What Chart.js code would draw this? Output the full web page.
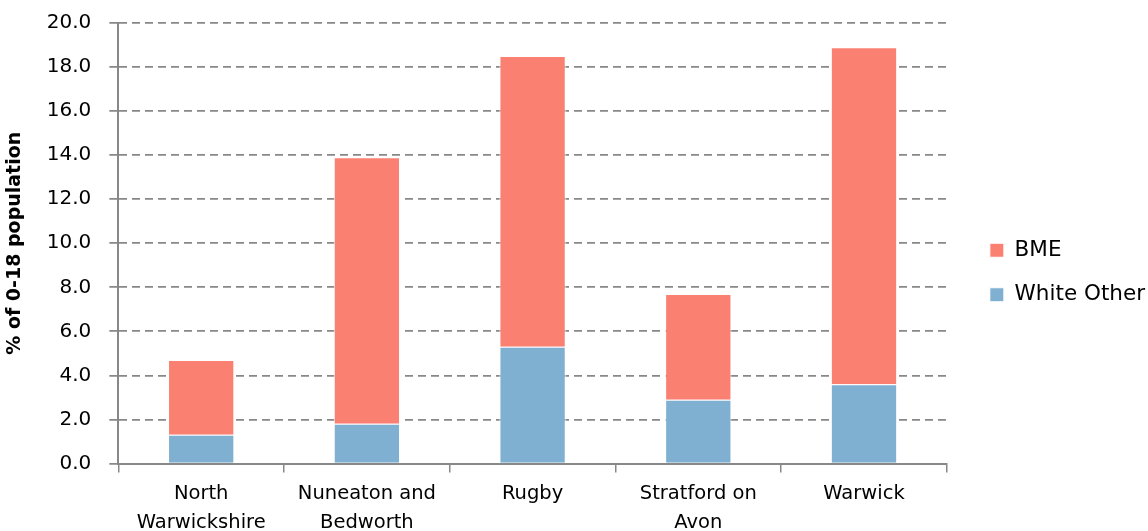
<!DOCTYPE html>
<html>
<head>
<meta charset="utf-8">
<script src="https://cdn.jsdelivr.net/npm/chart.js@4"></script>
<style>
  html, body { margin: 0; padding: 0; background: #fff; }
  #wrap { width: 1148px; height: 531px; }
</style>
</head>
<body>
<div id="wrap"><canvas id="chart" width="1148" height="531"></canvas></div>
<script>
// ---- data ----
const districts = [
    ["North", "Warwickshire"],
    ["Nuneaton and", "Bedworth"],
    "Rugby",
    ["Stratford on", "Avon"],
    "Warwick"
];
const whiteOther = [1.3, 1.8, 5.3, 2.9, 3.6];
const bme = [3.4, 12.1, 13.2, 4.8, 15.3];
const yTicks = [0, 2, 4, 6, 8, 10, 12, 14, 16, 18, 20];

const font = "'DejaVu Sans', sans-serif";

// push the legend a bit to the right of its layout box
const legendShift = {
    id: 'legendShift',
    afterLayout(chart) {
        const lg = chart.legend;
        if (!lg) return;
        lg.left += 20;
        lg.right += 20;
    }
};

const ctx = document.getElementById('chart').getContext('2d');
new Chart(ctx, {
    type: 'bar',
    data: {
        labels: districts,
        datasets: [
            { label: 'White Other', data: whiteOther, backgroundColor: '#7FAFD1', borderColor: '#fff', borderWidth: 1 },
            { label: 'BME', data: bme, backgroundColor: '#FA8072', borderColor: '#fff', borderWidth: 1 }
        ]
    },
    plugins: [legendShift],
    options: {
        responsive: false,
        animation: false,
        layout: { padding: { top: 0, right: 13, left: 0, bottom: -14 } },
        datasets: { bar: { barPercentage: 0.4, categoryPercentage: 1 } },
        plugins: {
            legend: {
                position: 'right',
                reverse: true,
                labels: { font: { family: font, size: 21.5 }, color: '#000', boxWidth: 14, boxHeight: 14, padding: 23 }
            },
            tooltip: { enabled: false }
        },
        scales: {
            x: {
                stacked: true,
                grid: { display: true, drawOnChartArea: false, offset: true, tickLength: 9, color: '#888', lineWidth: 1.5 },
                border: { color: '#888', width: 2 },
                ticks: { font: { family: font, size: 19.5, lineHeight: 1.5 }, color: '#000', padding: 7, maxRotation: 0 }
            },
            y: {
                stacked: true,
                min: 0,
                max: 20,
                afterBuildTicks: axis => { axis.ticks = yTicks.map(v => ({ value: v })); },
                afterFit: axis => { axis.paddingTop = 23; },
                grid: { color: '#888', lineWidth: 1.75, tickLength: 9, tickColor: '#888' },
                border: { color: '#888', width: 2, dash: [8, 5] },
                ticks: {
                    font: { family: font, size: 20 },
                    color: '#000',
                    padding: 18,
                    callback: v => v.toFixed(1)
                },
                title: {
                    display: true,
                    text: '% of 0-18 population',
                    font: { family: font, size: 19, weight: 'bold' },
                    color: '#000',
                    padding: { bottom: 2 }
                }
            }
        }
    }
});
</script>
</body>
</html>
